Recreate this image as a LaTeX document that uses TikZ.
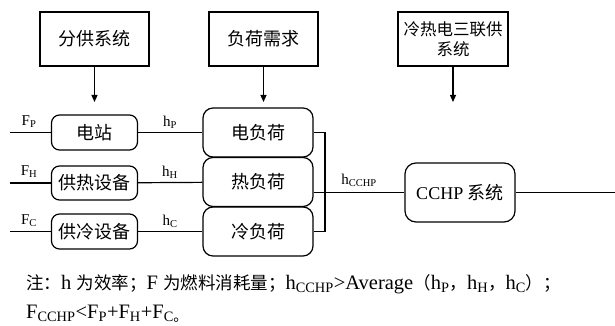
\documentclass[tikz,border=0pt]{standalone}
\usepackage{fontspec}
\setmainfont{Liberation Serif}
\newfontfamily\cjk{Noto Sans CJK SC}
\usetikzlibrary{arrows.meta}
\newcommand{\zh}[1]{{\cjk #1}}
\newcommand{\zhn}[1]{{\cjk\fontsize{17.5}{22}\selectfont #1}}
\begin{document}
\begin{tikzpicture}[x=1pt,y=-1pt,
  every node/.style={inner sep=0pt},
  topbox/.style={draw, line width=1.2pt, minimum width=109pt, minimum height=54pt, font=\cjk\fontsize{18}{20}\selectfont, align=center},
  devbox/.style={draw, line width=1.2pt, rounded corners=8pt, minimum width=86pt, minimum height=35pt, font=\cjk\fontsize{18}{20}\selectfont},
  loadbox/.style={draw, line width=1.2pt, rounded corners=10pt, minimum width=110pt, minimum height=49pt, font=\cjk\fontsize{18}{20}\selectfont},
  cchpbox/.style={draw, line width=1.2pt, rounded corners=11pt, minimum width=110pt, minimum height=59pt, font=\fontsize{18}{20}\selectfont},
  wire/.style={line width=1.2pt},
  arr/.style={line width=1.2pt, -{Triangle[length=7pt,width=6pt]}},
  lab/.style={font=\fontsize{15}{16}\selectfont},
  note/.style={font=\fontsize{20.5}{22}\selectfont, anchor=base west}
]
\fill[white] (0,0) rectangle (615,326);
\useasboundingbox (0,0) rectangle (615,326);

% top boxes
\node[topbox] (fg) at (94.5,39) {分供系统};
\node[topbox] (fh) at (263.5,39) {负荷需求};
\node[topbox, minimum width=110pt, font=\cjk\fontsize{16.5}{20}\selectfont] (sl) at (453,39) {冷热电三联供\\系统};
\coordinate (fgend) at (94.5,102);
\coordinate (fhend) at (263.5,102);
\coordinate (slend) at (453,102);
\draw[arr] (fg) -- (fgend);
\draw[arr] (fh) -- (fhend);
\draw[arr] (sl) -- (slend);

% devices
\node[devbox] (dz) at (94.5,132.5) {电站};
\node[devbox, minimum height=34pt] (gr) at (94.5,183) {供热设备};
\node[devbox] (gl) at (94.5,231.5) {供冷设备};

% loads
\node[loadbox] (dfh) at (258,132.5) {电负荷};
\node[loadbox] (rfh) at (258,182) {热负荷};
\node[loadbox] (lfh) at (258,231.5) {冷负荷};

% CCHP
\node[cchpbox] (cchp) at (460,192.5) {CCHP \zh{系统}};

% inputs
\coordinate (inp) at (10,132.5);
\coordinate (inh) at (10,183);
\coordinate (inc) at (10,231.5);
\draw[wire] (inp) -- (dz);
\draw[wire] (inh) -- (gr);
\draw[wire] (inc) -- (gl);
\node[lab] (lfp) at (29,122) {F\textsubscript{P}};
\node[lab] (lfh2) at (29,172) {F\textsubscript{H}};
\node[lab] (lfc) at (29,221) {F\textsubscript{C}};

% device to load
\draw[wire] (dz) -- (dfh);
\draw[wire] (gr) -- (rfh);
\draw[wire] (gl) -- (lfh);
\node[lab] (lhp) at (170,122) {h\textsubscript{P}};
\node[lab] (lhh) at (170,172) {h\textsubscript{H}};
\node[lab] (lhc) at (170,221) {h\textsubscript{C}};

% bracket
\coordinate (bt) at (325,132.5);
\coordinate (bb) at (325,231.5);
\draw[wire] (dfh.east) -- (bt) -- (bb) -- (lfh.east);
\draw[wire] (rfh.east |- cchp.west) -- (cchp.west);
\node[lab] (lhcchp) at (359,180) {h\textsubscript{CCHP}};
\coordinate (outr) at (615,192.5);
\draw[wire] (cchp) -- (outr);

% notes
\node[note] (n1) at (26,289) {\zhn{注：}h \zhn{为效率；}F \zhn{为燃料消耗量；}h\textsubscript{CCHP}>Average\zhn{（}h\textsubscript{P}\zhn{，}h\textsubscript{H}\zhn{，}h\textsubscript{C}\zhn{）；}};
\node[note] (n2) at (26,318.5) {F\textsubscript{CCHP}<F\textsubscript{P}+F\textsubscript{H}+F\textsubscript{C\zh{。}}};
\end{tikzpicture}
\end{document}
